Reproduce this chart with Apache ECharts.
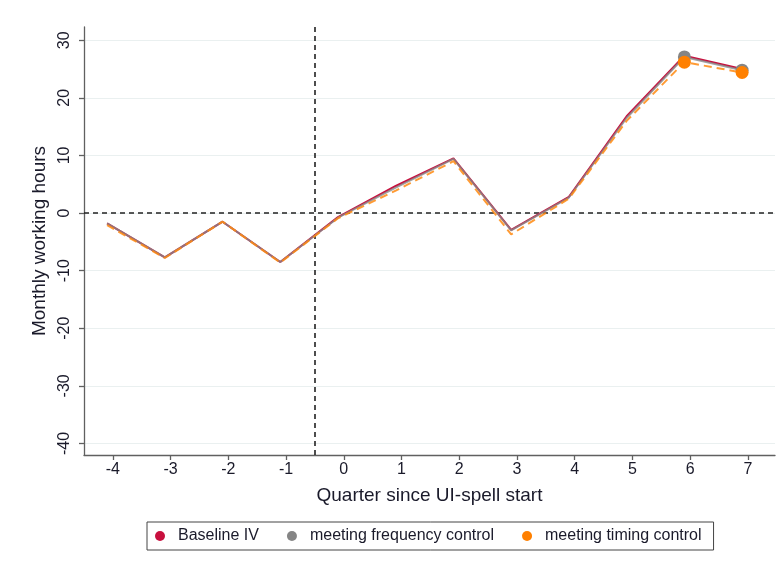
<!DOCTYPE html>
<html>
<head>
<meta charset="utf-8">
<script src="https://cdn.jsdelivr.net/npm/echarts@6/dist/echarts.min.js"></script>
<style>
  html, body { margin: 0; padding: 0; background: #fff; }
  #chart { width: 784px; height: 571px; }
</style>
</head>
<body>
<div id="chart"></div>
<script>
// Quarters relative to the start of the UI spell
const quarters = [-4, -3, -2, -1, 0, 1, 2, 3, 4, 5, 6, 7];
// Estimated effect on monthly working hours, by specification
const baselineIV = [-1.8, -7.7, -1.5, -8.5, -0.7, 4.7, 9.5, -2.9, 2.8, 16.8, 27.3, 25.0];
const freqControl = [-1.8, -7.7, -1.5, -8.5, -0.8, 4.4, 9.4, -3.0, 2.7, 16.5, 27.1, 24.8];
const timingControl = [-2.1, -7.8, -1.5, -8.6, -0.9, 3.9, 9.0, -3.7, 2.5, 16.0, 26.2, 24.4];
// Axis ticks
const xTicks = [-4, -3, -2, -1, 0, 1, 2, 3, 4, 5, 6, 7];
const yTicks = [-40, -30, -20, -10, 0, 10, 20, 30];
// Quarters that carry a visible marker
const markedQuarters = [6, 7];
const seriesNames = ['Baseline IV', 'meeting frequency control', 'meeting timing control'];

// Points sit slightly left of the tick, as in the estimation plot
const pointShift = -0.1;

function toData(values, markerSize) {
  return values.map((v, i) => ({
    value: [quarters[i] + pointShift, v],
    symbolSize: markedQuarters.includes(quarters[i]) ? markerSize : 0
  }));
}

const font = 'Liberation Sans, Arial, sans-serif';
const textColor = '#1a1a2a';
const axisColor = '#606060';
const chart = echarts.init(document.getElementById('chart'), null, { renderer: 'canvas' });

chart.setOption({
  animation: false,
  backgroundColor: '#ffffff',
  grid: { left: 84, right: 9, top: 27, bottom: 116 },
  xAxis: {
    type: 'value',
    min: -4.5,
    max: 7.47,
    name: 'Quarter since UI-spell start',
    nameLocation: 'middle',
    nameGap: 31,
    nameTextStyle: { fontFamily: font, fontSize: 19, color: textColor },
    axisLine: { onZero: false, lineStyle: { color: axisColor, width: 1.3 } },
    axisTick: { show: true, length: 5, customValues: xTicks, lineStyle: { color: axisColor, width: 1.3 } },
    axisLabel: { customValues: xTicks, margin: 7, fontFamily: font, fontSize: 16, color: textColor },
    splitLine: { show: false }
  },
  yAxis: {
    type: 'value',
    min: -42,
    max: 32.3,
    name: 'Monthly working hours',
    nameLocation: 'middle',
    nameGap: 30,
    nameTextStyle: { fontFamily: font, fontSize: 19, color: textColor },
    axisLine: { show: true, onZero: false, lineStyle: { color: axisColor, width: 1.3 } },
    axisTick: { show: true, length: 5, customValues: yTicks, lineStyle: { color: axisColor, width: 1.3 } },
    axisLabel: { customValues: yTicks, rotate: 90, margin: 11, fontFamily: font, fontSize: 16, color: textColor },
    splitLine: { show: true, lineStyle: { color: '#eaf0f0', width: 1.2 } }
  },
  legend: {
    left: 147,
    top: 522,
    padding: [6, 12, 6, 8],
    itemGap: 28,
    itemWidth: 10,
    itemHeight: 10,
    borderColor: '#444',
    borderWidth: 1,
    textStyle: { fontFamily: font, fontSize: 16, color: textColor, padding: [0, 0, 0, 8] },
    data: [
      { name: seriesNames[0], icon: 'circle' },
      { name: seriesNames[1], icon: 'circle' },
      { name: seriesNames[2], icon: 'circle' }
    ]
  },
  series: [
    {
      name: seriesNames[0],
      type: 'line',
      color: '#c8103e',
      data: toData(baselineIV, 0),
      symbol: 'circle',
      lineStyle: { width: 2, color: '#c8103e' },
      itemStyle: { color: '#c8103e' },
      z: 2,
      markLine: {
        silent: true,
        symbol: 'none',
        label: { show: false },
        lineStyle: { color: '#222', type: [5, 4], width: 1.6 },
        data: [{ yAxis: 0 }, { xAxis: -0.5 }],
        z: 1
      }
    },
    {
      name: seriesNames[1],
      type: 'line',
      color: '#858585',
      data: toData(freqControl, 13),
      symbol: 'circle',
      lineStyle: { width: 2, color: '#888888', opacity: 0.8 },
      itemStyle: { color: '#858585' },
      z: 3
    },
    {
      name: seriesNames[2],
      type: 'line',
      color: '#ff8000',
      data: toData(timingControl, 13),
      symbol: 'circle',
      lineStyle: { width: 2, color: '#ff8a10', type: [8, 5], opacity: 0.85 },
      itemStyle: { color: '#ff8000' },
      z: 4
    }
  ]
});
</script>
</body>
</html>
